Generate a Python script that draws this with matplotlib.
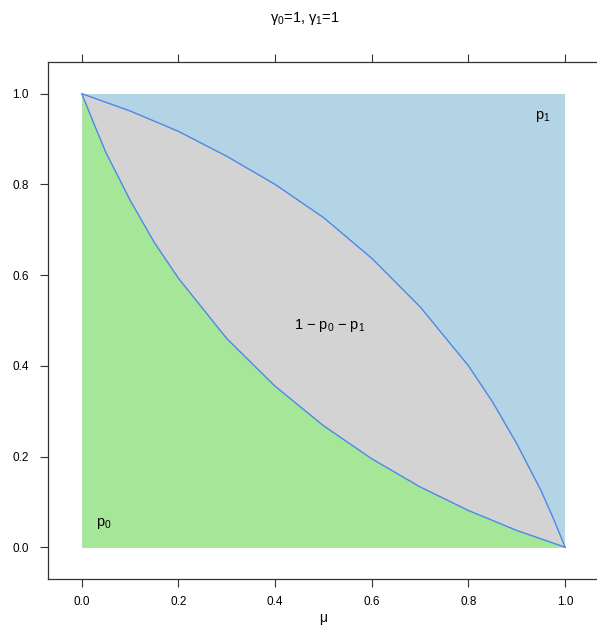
import matplotlib
matplotlib.use('Agg')
import matplotlib.pyplot as plt

plt.rcParams['font.family'] = ['Liberation Sans', 'DejaVu Sans']
plt.rcParams['mathtext.default'] = 'regular'

# Data
mu_upper = [0.0, 0.1, 0.2, 0.3, 0.4, 0.5, 0.6, 0.7, 0.8, 0.85, 0.9, 0.95, 0.975, 1.0]
upper = [1.0, 0.962, 0.917, 0.862, 0.800, 0.727, 0.637, 0.530, 0.400, 0.320,
         0.228, 0.125, 0.065, 0.0]                                           # 1 - p1
mu_lower = [0.0, 0.025, 0.05, 0.1, 0.15, 0.2, 0.3, 0.4, 0.5, 0.6, 0.7, 0.8, 0.9, 1.0]
lower = [1.0, 0.934, 0.870, 0.765, 0.672, 0.593, 0.460, 0.355, 0.268, 0.195,
         0.133, 0.081, 0.037, 0.0]                                           # p0
xticks = [0.0, 0.2, 0.4, 0.6, 0.8, 1.0]
yticks = [0.0, 0.2, 0.4, 0.6, 0.8, 1.0]

green = '#a6e698'
grey = '#d3d3d3'
blue = '#b3d4e4'
line = '#4d88e8'

fig = plt.figure(figsize=(5.97, 6.31), dpi=100)
ax = fig.add_axes([48 / 597, (631 - 579) / 631, 551 / 597, 517 / 631])

# stacked regions
ax.fill_between([0, 1], 0, 1, color=blue, lw=0)
ax.fill_between(mu_upper, 0, upper, color=grey, lw=0)
ax.fill_between(mu_lower, 0, lower, color=green, lw=0)
ax.plot(mu_upper, upper, color=line, lw=1)
ax.plot(mu_lower, lower, color=line, lw=1)

ax.text(0.954, 0.949, r'$p_1$', fontsize=10.5, ha='center', va='center')
ax.text(0.046, 0.053, r'$p_0$', fontsize=10.5, ha='center', va='center')
ax.text(0.513, 0.49, r'1 $-$ $p_0$ $-$ $p_1$', fontsize=10.5, ha='center', va='center')

ax.set_xlim(-0.07, 1.07)
ax.set_ylim(-0.07, 1.07)
ax.set_xticks(xticks)
ax.set_yticks(yticks)
ax.set_xticklabels(['%.1f' % t for t in xticks])
ax.set_yticklabels(['%.1f' % t for t in yticks])
ax.tick_params(direction='out', length=6, width=0.8, labelsize=8.5, pad=6,
               top=True, right=True, labeltop=False, labelright=False, color='#333333')
ax.tick_params(axis='y', pad=8)
for s in ax.spines.values():
    s.set_linewidth(0.9)
    s.set_color('#333333')

ax.set_xlabel(r'$\mu$', fontsize=10, labelpad=3)
fig.text(0.51, 0.971, r'$\gamma_0$=1, $\gamma_1$=1', fontsize=10.5, ha='center', va='center')

fig.savefig('out.png', dpi=100)
